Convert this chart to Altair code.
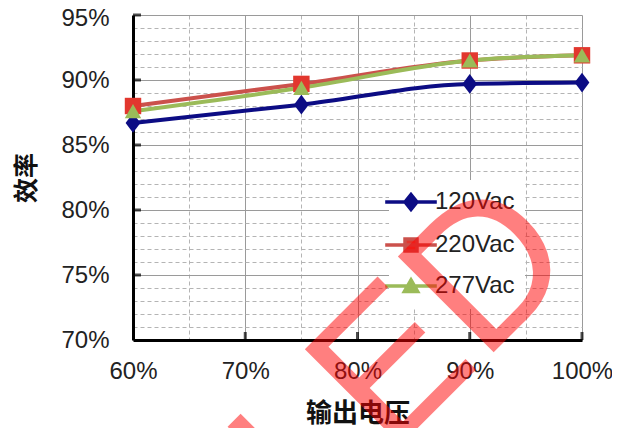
import altair as alt
import pandas as pd

# ---- data ----
series = ["120Vac", "220Vac", "277Vac"]
load_pct = [60, 75, 90, 100]
eff_120 = [86.7, 88.1, 89.7, 89.8]
eff_220 = [88.0, 89.7, 91.5, 91.9]
eff_277 = [87.6, 89.4, 91.5, 91.9]

x_ticks = [60, 65, 70, 75, 80, 85, 90, 95, 100]
y_ticks = [70, 71, 72, 73, 74, 75, 76, 77, 78, 79, 80, 81, 82, 83, 84, 85,
           86, 87, 88, 89, 90, 91, 92, 93, 94, 95]
x_major = [70, 80, 90, 100]
y_major = [75, 80, 85, 90, 95]
watermark = "LED"

# ---- styles ----
line_colors = ["#0C0C84", "#CB514C", "#9BBB59"]
marker_fill = ["#0C0C84", "#E2372E", "#9BBB59"]
plot_shapes = [
    "M0,-1.2L0.9,0L0,1.2L-0.9,0Z",
    "square",
    "triangle-up",
]
legend_shapes = [
    "M-4.3,0H4.3M0,-1.25L1,0L0,1.25L-1,0Z",
    "M-4.3,0H4.3M-1,-1H1V1H-1Z",
    "M-4.3,0H4.3M0,-1L1.1,0.9H-1.1Z",
]

rows = []
for name, vals in zip(series, [eff_120, eff_220, eff_277]):
    for xv, yv in zip(load_pct, vals):
        rows.append({"series": name, "load": xv, "eff": yv})
df = pd.DataFrame(rows)

FONT = "Liberation Sans"
CJK = "Noto Sans CJK SC"

x_enc = alt.X(
    "load:Q",
    scale=alt.Scale(domain=[60, 100], nice=False, zero=False),
    axis=alt.Axis(
        values=x_ticks,
        labelExpr="datum.value % 10 == 0 ? datum.value + '%' : ''",
        labelOverlap=False,
        labelFlush=False,
        labelFont=FONT,
        labelFontSize=24,
        labelColor="#222222",
        labelPadding=19,
        ticks=False,
        domainColor="#000000",
        domainWidth=3,
        gridColor={"condition": {"test": "datum.value % 10 != 0", "value": "#b4b4b4"}, "value": "#9a9a9a"},
        gridDash={"condition": {"test": "datum.value % 10 != 0", "value": [4, 3]}, "value": []},
        gridWidth=1,
        title="输出电压",
        titleFont=CJK,
        titleFontSize=26,
        titleFontWeight="bold",
        titleColor="#111111",
        titleY=60,
        titleBaseline="top",
    ),
)
y_enc = alt.Y(
    "eff:Q",
    scale=alt.Scale(domain=[70, 95], nice=False, zero=False),
    axis=alt.Axis(
        values=y_ticks,
        labelExpr="datum.value % 5 == 0 ? datum.value + '%' : ''",
        labelOverlap=False,
        labelFlush=False,
        labelFont=FONT,
        labelFontSize=24,
        labelColor="#222222",
        labelPadding=24,
        labelOffset={"condition": {"test": "datum.value == 95", "value": 3}, "value": 0},
        ticks=False,
        domainColor="#000000",
        domainWidth=3,
        gridColor={"condition": {"test": "datum.value % 5 != 0", "value": "#b4b4b4"}, "value": "#9a9a9a"},
        gridDash={"condition": {"test": "datum.value % 5 != 0", "value": [4, 3]}, "value": []},
        gridWidth=1,
        title="效率",
        titleFont=CJK,
        titleFontSize=25,
        titleFontWeight="bold",
        titleColor="#111111",
        titleX=-107,
        titleBaseline="middle",
    ),
)

base = alt.Chart(df)

# inward tick marks on the two black axes
x_tick_layer = alt.Chart(pd.DataFrame({"load": x_major})).mark_tick(
    color="#000000", size=8, thickness=3
).encode(x=x_enc, y=alt.value(321))
y_tick_layer = alt.Chart(pd.DataFrame({"eff": y_major})).mark_tick(
    color="#000000", size=8, thickness=3
).encode(y=y_enc, x=alt.value(4))

lines = base.mark_line(strokeWidth=4, interpolate="monotone").encode(
    x=x_enc,
    y=y_enc,
    color=alt.Color("series:N", scale=alt.Scale(domain=series, range=line_colors), legend=None),
)

points = base.mark_point(filled=True, opacity=1, size=270).encode(
    x=x_enc,
    y=y_enc,
    fill=alt.Fill("series:N", scale=alt.Scale(domain=series, range=marker_fill), legend=None),
    shape=alt.Shape("series:N", scale=alt.Scale(domain=series, range=plot_shapes), legend=None),
)

leg = alt.Legend(
    title=None,
    orient="none",
    legendX=256,
    legendY=165,
    padding=10,
    fillColor="#ffffff",
    symbolSize=144,
    symbolStrokeWidth=3.5,
    symbolOpacity=1,
    labelFont=FONT,
    labelFontSize=24,
    labelColor="#222222",
    labelOffset=12,
    rowPadding=15,
)

legend_layer = base.mark_point(filled=True, strokeWidth=3.5, opacity=1).encode(
    x=x_enc,
    y=y_enc,
    fill=alt.Fill("series:N", scale=alt.Scale(domain=series, range=marker_fill), legend=leg),
    stroke=alt.Stroke("series:N", scale=alt.Scale(domain=series, range=line_colors), legend=leg),
    shape=alt.Shape("series:N", scale=alt.Scale(domain=series, range=legend_shapes), legend=leg),
).transform_filter("false")

chart = (
    alt.layer(x_tick_layer, y_tick_layer, lines, points, legend_layer)
    .resolve_scale(shape="independent", fill="independent", stroke="independent")
    .properties(
        width=449,
        height=325,
        autosize=alt.AutoSizeParams(type="none"),
        padding={"left": 125, "top": 7, "right": 30, "bottom": 88},
        background="#ffffff",
        title=alt.TitleParams(
            watermark,
            anchor="start",
            orient="top",
            frame="group",
            align="left",
            baseline="alphabetic",
            angle=315,
            font=FONT,
            fontSize=197,
            fontWeight="normal",
            color="rgba(255,0,0,0.5)",
            offset=0,
            dx=-537,
            dy=790,
        ),
    )
    .configure_view(stroke=None)
)

chart.save("out.html", embed_options={"renderer": "svg", "actions": False})
